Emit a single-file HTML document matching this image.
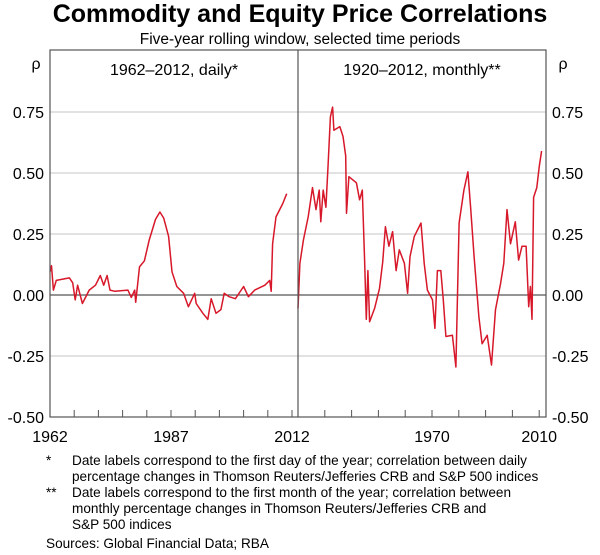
<!DOCTYPE html>
<html><head><meta charset="utf-8"><style>
body{margin:0;background:#fff;}
svg{display:block;font-family:"Liberation Sans",Arial,sans-serif;}
</style></head><body>
<svg width="600" height="555" viewBox="0 0 600 555">
<text x="300" y="22" text-anchor="middle" font-size="25" font-weight="bold" fill="#000">Commodity and Equity Price Correlations</text>
<text x="300" y="44" text-anchor="middle" font-size="15.5" fill="#000">Five-year rolling window, selected time periods</text>
<g id="grid"></g>
<g id="series"></g>
<rect x="50" y="50" width="496" height="367" fill="none" stroke="#555" stroke-width="1.2"/>
<line x1="298" y1="50" x2="298" y2="417" stroke="#555" stroke-width="1.2"/>
<g id="ticks"></g>
<text x="36" y="69" text-anchor="middle" font-size="16">ρ</text>
<text x="563" y="69" text-anchor="middle" font-size="16">ρ</text>
<text x="174" y="75" text-anchor="middle" font-size="16">1962–2012, daily*</text>
<text x="422" y="75" text-anchor="middle" font-size="16">1920–2012, monthly**</text>
<g font-size="13.6" fill="#000">
<text x="46" y="465">*</text>
<text x="72" y="465">Date labels correspond to the first day of the year; correlation between daily</text>
<text x="72" y="481">percentage changes in Thomson Reuters/Jefferies CRB and S&amp;P 500 indices</text>
<text x="46" y="497">**</text>
<text x="72" y="497">Date labels correspond to the first month of the year; correlation between</text>
<text x="72" y="513">monthly percentage changes in Thomson Reuters/Jefferies CRB and</text>
<text x="72" y="529">S&amp;P 500 indices</text>
<text x="46" y="548">Sources: Global Financial Data; RBA</text>
</g>
</svg>
<script>
const yTicks=[0.75,0.5,0.25,0,-0.25,-0.5];
const yTickLabels=["0.75","0.50","0.25","0.00","-0.25","-0.50"];
const leftXLabels=[1962,1987,2012];
const rightXLabels=[1970,2010];
const dailyYears=[1962.0,1962.3,1962.7,1963.3,1966,1966.7,1967.2,1967.7,1968.7,1970.1,1971.4,1972.4,1973.1,1973.8,1974.4,1975.4,1978.1,1978.8,1979.5,1979.7,1980.5,1981.5,1982.5,1983.8,1984.7,1985.5,1986.5,1987.2,1988.2,1989.6,1990.6,1991.9,1992.2,1993.6,1994.6,1995.3,1996.3,1997.3,1998.0,1999.0,2000.3,2002.0,2003.0,2004.3,2006.4,2007.4,2007.7,2008.0,2008.7,2010.1,2010.9];
const dailyValues=[0.095,0.12,0.02,0.06,0.07,0.05,-0.02,0.04,-0.035,0.02,0.04,0.08,0.04,0.08,0.02,0.015,0.02,-0.01,0.02,-0.03,0.115,0.14,0.225,0.31,0.34,0.315,0.24,0.095,0.035,0.007,-0.048,0.007,-0.035,-0.075,-0.10,-0.015,-0.075,-0.06,0.007,-0.007,-0.015,0.035,-0.007,0.02,0.04,0.06,0.015,0.21,0.32,0.375,0.415];
const monthlyYears=[1920,1920.7,1922,1923.8,1925.4,1926.7,1927.9,1928.5,1929.4,1930.4,1931.2,1932.1,1932.9,1933.4,1935.6,1936.8,1937.8,1938.1,1939.0,1941.8,1943.0,1944.0,1944.9,1945.5,1946.1,1946.7,1948.6,1950.4,1951.6,1952.6,1953.9,1955.3,1956.6,1957.8,1959.7,1960.9,1961.8,1963.4,1965.9,1967.1,1968.3,1970.2,1971.1,1972.0,1973.3,1974.2,1975.2,1977.6,1978.9,1980.1,1981.9,1983.4,1984.4,1985.7,1987.5,1988.7,1990.6,1992.2,1993.7,1995.6,1996.8,1998.0,1999.3,2001.1,2002.3,2003.6,2005.1,2006.1,2006.7,2007.3,2007.9,2009.1,2010.0,2010.9];
const monthlyValues=[-0.055,0.13,0.225,0.32,0.44,0.35,0.43,0.30,0.43,0.36,0.525,0.73,0.77,0.675,0.69,0.65,0.57,0.335,0.485,0.46,0.39,0.43,0.13,-0.10,0.10,-0.11,-0.055,0.027,0.135,0.28,0.20,0.26,0.10,0.185,0.13,0.007,0.157,0.24,0.295,0.13,0.02,-0.02,-0.137,0.10,0.10,-0.02,-0.17,-0.165,-0.295,0.295,0.43,0.505,0.36,0.157,-0.09,-0.2,-0.165,-0.287,-0.06,0.048,0.13,0.35,0.21,0.30,0.143,0.20,0.20,-0.048,0.035,-0.10,0.40,0.44,0.525,0.59];

const NS="http://www.w3.org/2000/svg";
const yS=v=>295-v*244;
const xL=yr=>50+(yr-1962)*4.84;
const xR=yr=>298+(yr-1920)*2.68;
const grid=document.getElementById('grid'),ticks=document.getElementById('ticks'),series=document.getElementById('series');
function mk(tag,attrs,parent){const e=document.createElementNS(NS,tag);for(const k in attrs)e.setAttribute(k,attrs[k]);parent.appendChild(e);return e;}
yTicks.forEach((v,i)=>{
  if(v!==0&&v!==-0.5){const g=mk('line',{x1:50,x2:546,y1:yS(v),y2:yS(v),stroke:'#d0d0d0','stroke-width':1.2},grid);
  
  }
  const t1=mk('text',{x:44,y:yS(v)+6,'text-anchor':'end','font-size':16},ticks);t1.textContent=yTickLabels[i];
  
  
  const t2=mk('text',{x:552,y:yS(v)+6,'text-anchor':'start','font-size':16},ticks);t2.textContent=yTickLabels[i];
  
  
});
const z=mk('line',{x1:50,x2:546,y1:yS(0),y2:yS(0),stroke:'#555','stroke-width':1.2},grid);


for(let yr=1967;yr<=2012;yr+=5){const l=mk('line',{x1:xL(yr),x2:xL(yr),y1:417,y2:410,stroke:'#555'},ticks);
  
  }
for(let yr=1930;yr<=2010;yr+=10){const l=mk('line',{x1:xR(yr),x2:xR(yr),y1:417,y2:410,stroke:'#555'},ticks);
  
  }
leftXLabels.forEach(yr=>{const t=mk('text',{x:Math.min(xL(yr),298),y:442,'text-anchor':'middle','font-size':16},ticks);t.textContent=yr;
  
  });
rightXLabels.forEach(yr=>{const t=mk('text',{x:xR(yr),y:442,'text-anchor':'middle','font-size':16},ticks);t.textContent=yr;
  
  });
const p1=mk('path',{d:dailyYears.map((y,i)=>(i?'L':'M')+xL(y).toFixed(1)+','+yS(dailyValues[i]).toFixed(1)).join(''),fill:'none',stroke:'#d7182a','stroke-width':1.5,'stroke-linejoin':'round'},series);


const p2=mk('path',{d:monthlyYears.map((y,i)=>(i?'L':'M')+xR(y).toFixed(1)+','+yS(monthlyValues[i]).toFixed(1)).join(''),fill:'none',stroke:'#d7182a','stroke-width':1.5,'stroke-linejoin':'round'},series);


</script>
</body></html>
